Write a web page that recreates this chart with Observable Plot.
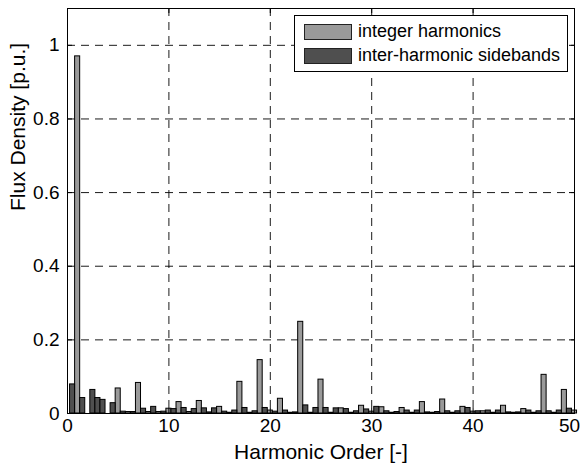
<!DOCTYPE html>
<html>
<head>
<meta charset="utf-8">
<script src="https://cdn.jsdelivr.net/npm/d3@7"></script>
<script src="https://cdn.jsdelivr.net/npm/@observablehq/plot@0.6"></script>
<style>
  html, body { margin: 0; padding: 0; background: white; }
  #wrap { position: relative; width: 582px; height: 466px; font-family: "Liberation Sans", Arial, sans-serif; }
  #legend { position: absolute; left: 294px; top: 15px; width: 274px; height: 57px; border: 1px solid black; background: white; box-sizing: border-box; }
  .item { position: absolute; left: 9px; height: 17px; display: flex; align-items: center; font-size: 18px; color: black; white-space: nowrap; }
  .sw { width: 46px; height: 14px; border: 1px solid #222; margin-right: 6px; }
</style>
</head>
<body>
<div id="wrap"></div>
<script>
// Integer harmonics (light bars)
const integerOrders = [1,2,3,4,5,6,7,8,9,10,11,12,13,14,15,16,17,18,19,20,21,22,23,24,25,26,27,28,29,30,31,32,33,34,35,36,37,38,39,40,41,42,43,44,45,46,47,48,49,50];
const integerValues = [0.970,0,0,0,0.068,0.004,0.083,0.004,0.004,0.013,0.031,0.004,0.034,0.003,0.018,0.002,0.086,0.002,0.145,0.008,0.040,0.002,0.249,0.002,0.092,0.002,0.014,0.002,0.021,0.005,0.017,0.002,0.015,0.002,0.031,0.002,0.038,0.002,0.018,0.005,0.006,0.002,0.021,0.002,0.012,0.002,0.105,0.002,0.064,0.008];

// Inter-harmonic sidebands (dark bars)
const sidebandOrders = [0.5,1.5,2.5,3,3.5,4.5,5.5,6.5,7.5,8.5,9.5,10.5,11.5,12.5,13.5,14.5,15.5,16.5,17.5,18.5,19.5,20.5,21.5,22.5,23.5,24.5,25.5,26.5,27.5,28.5,29.5,30.5,31.5,32.5,33.5,34.5,35.5,36.5,37.5,38.5,39.5,40.5,41.5,42.5,43.5,44.5,45.5,46.5,47.5,48.5,49.5];
const sidebandValues = [0.079,0.042,0.064,0.042,0.037,0.028,0.005,0.004,0.013,0.018,0.005,0.012,0.015,0.012,0.014,0.014,0.005,0.008,0.015,0.006,0.015,0.005,0.008,0.003,0.022,0.015,0.015,0.014,0.012,0.006,0.011,0.018,0.006,0.004,0.008,0.008,0.003,0.004,0.006,0.006,0.015,0.006,0.008,0.008,0.003,0.003,0.008,0.006,0.006,0.008,0.013];

const xTicks = [0,10,20,30,40,50];
const yTicks = [0,0.2,0.4,0.6,0.8,1];
const gridX = [10,20,30,40];
const gridY = [0.2,0.4,0.6,0.8,1];
const seriesNames = ["integer harmonics", "inter-harmonic sidebands"];
const seriesColors = ["#9a9a9a", "#4f4f4f"];
const xLabel = "Harmonic Order [-]";
const yLabel = "Flux Density [p.u.]";

const integerRows = integerOrders.map((o, i) => ({order: o, value: integerValues[i]}));
const sidebandRows = sidebandOrders.map((o, i) => ({order: o, value: sidebandValues[i]}));

const W = 582, H = 466, mT = 8, mL = 67, mR = 8, mB = 53;
const pw = W - mL - mR, ph = H - mT - mB;
const tk = 5;
const lastTick = xTicks[xTicks.length - 1];

const chart = Plot.plot({
  width: W, height: H,
  marginTop: mT, marginLeft: mL, marginRight: mR, marginBottom: mB,
  x: {domain: [0, 50]},
  y: {domain: [0, 1.1]},
  style: {fontFamily: "'Liberation Sans', Arial, sans-serif", fontSize: "19px", color: "black", background: "white", overflow: "visible"},
  marks: [
    Plot.ruleX(gridX, {x: d => d, stroke: "black", strokeWidth: 0.9, strokeDasharray: "8,6"}),
    Plot.ruleY(gridY, {y: d => d, stroke: "black", strokeWidth: 0.9, strokeDasharray: "8,6"}),
    Plot.rect(integerRows, {x1: d => d.order - 0.25, x2: d => d.order + 0.25, y1: () => 0, y2: "value", fill: seriesColors[0], stroke: "black", strokeWidth: 1}),
    Plot.rect(sidebandRows, {x1: d => d.order - 0.25, x2: d => d.order + 0.25, y1: () => 0, y2: "value", fill: seriesColors[1], stroke: "black", strokeWidth: 1}),
    Plot.frame({stroke: "black", strokeWidth: 1}),
    Plot.tickX(xTicks, {x: d => d, insetTop: ph - tk, stroke: "black"}),
    Plot.tickX(xTicks, {x: d => d, insetBottom: ph - tk, stroke: "black"}),
    Plot.tickY(yTicks, {y: d => d, insetRight: pw - tk, stroke: "black"}),
    Plot.tickY(yTicks, {y: d => d, insetLeft: pw - tk, stroke: "black"}),
    Plot.axisX(xTicks.filter(d => d !== lastTick), {tickSize: 0, tickPadding: 5, label: null, fontSize: 19, tickFormat: d => String(d)}),
    Plot.axisX([lastTick], {tickSize: 0, tickPadding: 5, label: null, fontSize: 19, dx: -5, tickFormat: d => String(d)}),
    Plot.axisY({ticks: yTicks, tickSize: 0, tickPadding: 8, label: null, fontSize: 19, tickFormat: d => String(d)}),
    Plot.text([xLabel], {frameAnchor: "bottom", dy: 45, fontSize: 21, fill: "black", text: d => d}),
    Plot.text([yLabel], {frameAnchor: "left", dx: -49, rotate: -90, fontSize: 21, fill: "black", text: d => d})
  ]
});

const wrap = document.getElementById("wrap");
wrap.appendChild(chart);

const legend = document.createElement("div");
legend.id = "legend";
seriesNames.forEach((name, i) => {
  const item = document.createElement("div");
  item.className = "item";
  item.style.top = (i === 0 ? 7 : 31) + "px";
  const sw = document.createElement("div");
  sw.className = "sw";
  sw.style.background = seriesColors[i];
  const t = document.createElement("span");
  t.textContent = name;
  item.appendChild(sw);
  item.appendChild(t);
  legend.appendChild(item);
});
wrap.appendChild(legend);
</script>
</body>
</html>
